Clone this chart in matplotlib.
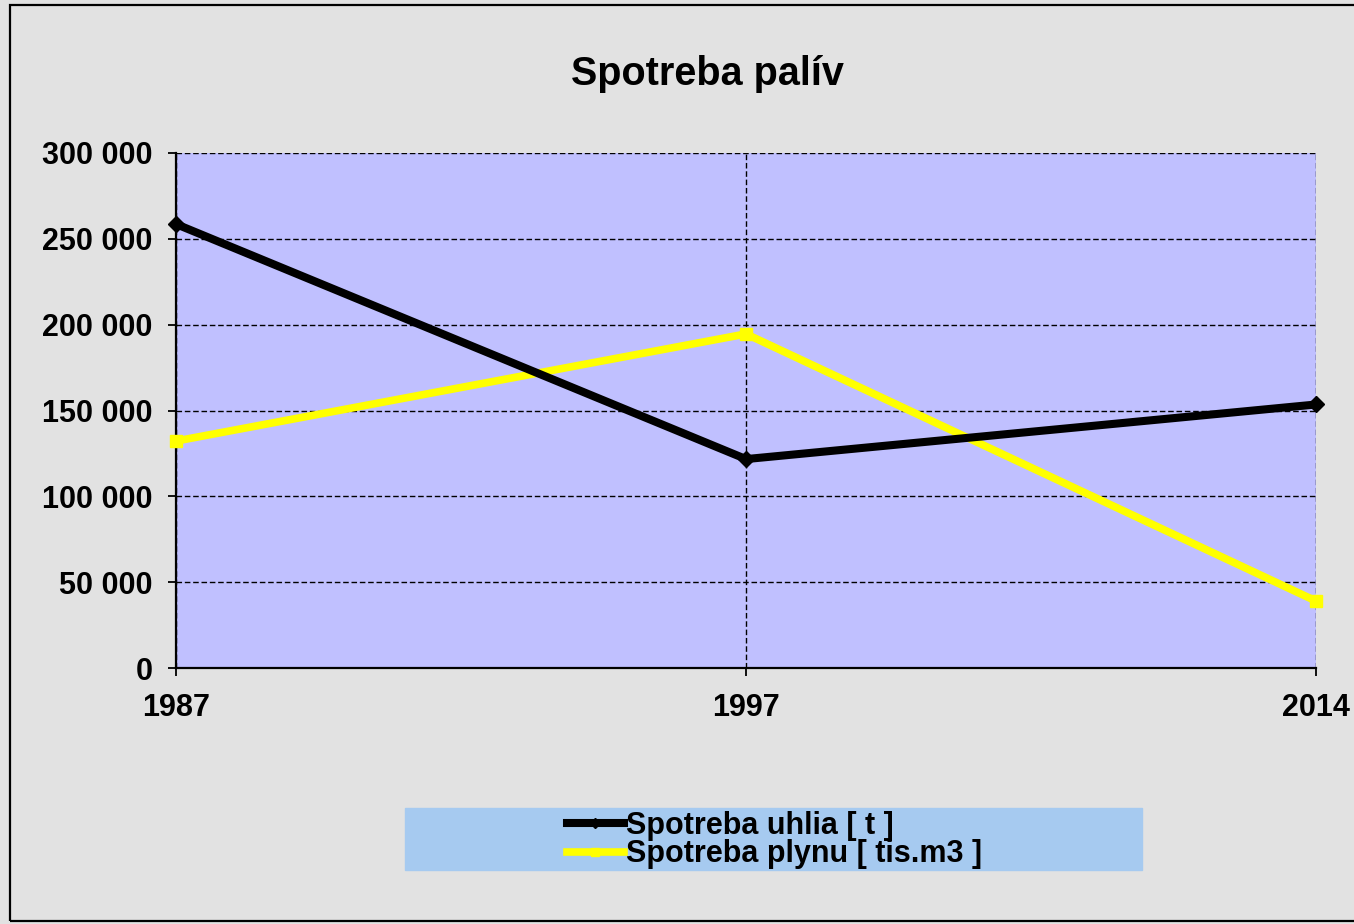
import matplotlib.pyplot as plt
from matplotlib.patches import Rectangle
from matplotlib.ticker import FuncFormatter

# udaje z grafu
roky = ['1987', '1997', '2014']
uhlie = [258600, 121700, 153500]
plyn = [132200, 194600, 39000]
y_ticks = [0, 50000, 100000, 150000, 200000, 250000, 300000]

plt.rcParams['font.family'] = ['Liberation Sans', 'DejaVu Sans']
plt.rcParams['font.weight'] = 'bold'

W, H = 1354, 924
fig = plt.figure(figsize=(W / 100, H / 100), dpi=100)
fig.patch.set_facecolor('#E2E2E2')

# ramik okolo grafu
fig.patches.append(Rectangle((10 / W, 1 - 921 / H), 2.0, (921 - 5) / H,
                             transform=fig.transFigure, fill=False,
                             lw=1.6, ec='black', zorder=0))

ax = fig.add_axes([176 / W, 1 - 668 / H, (1316 - 176) / W, (668 - 153) / H])
ax.set_facecolor('#C0C0FF')

x = range(len(roky))
ax.plot(x, uhlie, color='black', lw=5.8, marker='D', ms=8.5,
        label='Spotreba uhlia [ t ]', clip_on=False, zorder=4)
ax.plot(x, plyn, color='#FFFF00', lw=5.5, marker='s', ms=9,
        label='Spotreba plynu [ tis.m3 ]', clip_on=False, zorder=3)

ax.set_xlim(0, 2)
ax.set_ylim(0, 300000)
ax.set_xticks(list(x))
ax.set_xticklabels(roky)
ax.set_yticks(y_ticks)
ax.yaxis.set_major_formatter(FuncFormatter(lambda v, p: f'{int(v):,}'.replace(',', ' ')))
ax.tick_params(axis='both', labelsize=22, length=6, width=1.3, colors='black')
ax.tick_params(axis='y', pad=11)
ax.tick_params(axis='x', pad=12)

ax.grid(True, color='black', lw=1, linestyle=(0, (4, 2)))
ax.set_axisbelow(True)
for s in ['top', 'right']:
    ax.spines[s].set_visible(False)
for s in ['left', 'bottom']:
    ax.spines[s].set_linewidth(1.6)

fig.text(707 / W, 1 - 74 / H, 'Spotreba palív', ha='center', va='center',
         fontsize=28.5, fontweight='bold')

# legenda
fig.patches.append(Rectangle((405 / W, 1 - 870 / H), (1142 - 405) / W, (870 - 808) / H,
                             transform=fig.transFigure, color='#A6CAF0', zorder=1))
fig.legend(loc='center left', bbox_to_anchor=(567 / W, 1 - 840 / H), frameon=False,
           fontsize=22, handlelength=1.85, handletextpad=0.08, labelspacing=-0.05,
           borderpad=0, borderaxespad=0, markerscale=0.6)

fig.savefig('out.png', dpi=100, facecolor=fig.get_facecolor())
